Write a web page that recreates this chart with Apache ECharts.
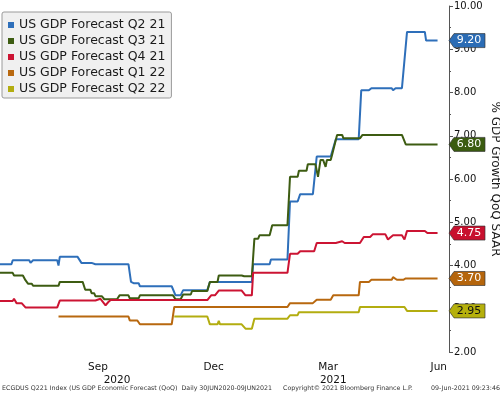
<!DOCTYPE html>
<html>
<head>
<meta charset="utf-8">
<script src="https://cdn.jsdelivr.net/npm/echarts@6/dist/echarts.min.js"></script>
<style>html,body{margin:0;padding:0;background:#fff;}#c{width:500px;height:395px;}</style>
</head>
<body>
<div id="c"></div>
<script>
// ---- data ----
const seriesNames = ['US GDP Forecast Q2 21','US GDP Forecast Q3 21','US GDP Forecast Q4 21','US GDP Forecast Q1 22','US GDP Forecast Q2 22'];
const xStart = '2020-06-30';
const xEnd = '2021-06-18';
const monthTickDates = ['2020-09-15','2020-12-15','2021-03-15','2021-06-10'];
const monthTickLabels = ['Sep','Dec','Mar','Jun'];
const yearTickDates = ['2020-09-30','2021-03-19'];
const yearTickLabels = ['2020','2021'];
const yTicks = [2,3,4,5,6,7,8,9,10];

const q221 = [
 ['2020-06-30',4.03],['2020-07-09',4.03],['2020-07-10',4.12],['2020-07-23',4.12],['2020-07-24',4.06],['2020-07-26',4.12],
 ['2020-08-14',4.12],['2020-08-15',4.00],['2020-08-16',4.20],['2020-08-30',4.20],['2020-09-02',4.06],['2020-09-10',4.06],
 ['2020-09-13',4.03],['2020-10-09',4.03],['2020-10-11',3.62],['2020-10-13',3.59],['2020-10-17',3.59],['2020-10-18',3.52],
 ['2020-11-12',3.52],['2020-11-15',3.31],['2020-11-19',3.31],['2020-11-21',3.43],['2020-12-10',3.43],['2020-12-12',3.62],
 ['2021-01-14',3.62],['2021-01-15',4.03],['2021-01-28',4.03],['2021-01-29',4.14],['2021-02-11',4.14],['2021-02-13',5.48],
 ['2021-02-19',5.48],['2021-02-21',5.65],['2021-03-03',5.65],['2021-03-06',6.52],['2021-03-17',6.52],['2021-03-21',6.92],
 ['2021-04-08',6.92],['2021-04-10',8.05],['2021-04-16',8.05],['2021-04-18',8.10],['2021-05-04',8.10],['2021-05-05',8.05],
 ['2021-05-07',8.10],['2021-05-12',8.10],['2021-05-16',9.40],['2021-05-30',9.40],['2021-05-31',9.20],['2021-06-09',9.20]
];
const q321 = [
 ['2020-06-30',3.83],['2020-07-10',3.83],['2020-07-11',3.77],['2020-07-18',3.77],['2020-07-20',3.66],['2020-07-22',3.58],
 ['2020-07-25',3.58],['2020-07-26',3.53],['2020-08-15',3.53],['2020-08-16',3.62],['2020-09-03',3.62],['2020-09-05',3.44],
 ['2020-09-09',3.44],['2020-09-10',3.36],['2020-09-12',3.36],['2020-09-13',3.29],['2020-09-18',3.29],['2020-09-20',3.22],
 ['2020-09-30',3.22],['2020-10-02',3.31],['2020-10-09',3.31],['2020-10-10',3.24],['2020-10-17',3.24],['2020-10-18',3.31],
 ['2020-11-13',3.31],['2020-11-15',3.22],['2020-11-19',3.22],['2020-11-21',3.33],['2020-11-27',3.33],['2020-11-28',3.41],
 ['2020-12-10',3.41],['2020-12-12',3.62],['2020-12-18',3.62],['2020-12-19',3.77],['2021-01-06',3.77],['2021-01-07',3.81],
 ['2021-01-08',3.75],['2021-01-14',3.75],['2021-01-16',4.62],['2021-01-19',4.62],['2021-01-20',4.70],['2021-01-28',4.70],
 ['2021-01-30',4.93],['2021-02-11',4.93],['2021-02-13',6.05],['2021-02-19',6.05],['2021-02-20',6.19],['2021-02-26',6.19],
 ['2021-02-27',6.34],['2021-03-05',6.34],['2021-03-07',6.05],['2021-03-09',6.44],['2021-03-11',6.44],['2021-03-13',6.28],
 ['2021-03-14',6.44],['2021-03-17',6.44],['2021-03-18',6.55],['2021-03-22',7.02],['2021-03-26',7.02],['2021-03-27',6.94],
 ['2021-04-09',6.94],['2021-04-11',7.02],['2021-05-12',7.02],['2021-05-15',6.80],['2021-06-09',6.80]
];
const q421 = [
 ['2020-06-30',3.18],['2020-07-10',3.18],['2020-07-11',3.23],['2020-07-13',3.13],['2020-07-17',3.13],['2020-07-20',3.03],
 ['2020-08-14',3.03],['2020-08-16',3.19],['2020-09-13',3.19],['2020-09-17',3.23],['2020-09-21',3.08],['2020-09-23',3.15],
 ['2020-09-25',3.20],['2020-12-10',3.20],['2020-12-13',3.31],['2020-12-16',3.31],['2020-12-19',3.42],['2021-01-06',3.42],
 ['2021-01-09',3.31],['2021-01-14',3.31],['2021-01-15',3.83],['2021-02-11',3.83],['2021-02-13',4.27],['2021-02-19',4.27],
 ['2021-02-21',4.33],['2021-03-04',4.33],['2021-03-06',4.52],['2021-03-21',4.52],['2021-03-22',4.56],['2021-03-26',4.56],
 ['2021-03-28',4.52],['2021-04-09',4.52],['2021-04-12',4.66],['2021-04-17',4.66],['2021-04-19',4.72],['2021-04-29',4.72],
 ['2021-05-01',4.60],['2021-05-05',4.70],['2021-05-12',4.70],['2021-05-14',4.60],['2021-05-16',4.80],['2021-05-30',4.80],
 ['2021-06-01',4.75],['2021-06-09',4.75]
];
const q122 = [
 ['2020-08-15',2.82],['2020-10-09',2.82],['2020-10-10',2.73],['2020-10-16',2.73],['2020-10-18',2.64],['2020-11-12',2.64],
 ['2020-11-14',3.04],['2021-02-11',3.04],['2021-02-13',3.13],['2021-03-03',3.13],['2021-03-06',3.21],['2021-03-17',3.21],
 ['2021-03-19',3.31],['2021-04-08',3.31],['2021-04-09',3.62],['2021-04-16',3.62],['2021-04-18',3.67],['2021-05-04',3.67],
 ['2021-05-05',3.73],['2021-05-08',3.67],['2021-05-13',3.67],['2021-05-15',3.70],['2021-06-09',3.70]
];
const q222 = [
 ['2020-11-14',2.82],['2020-12-10',2.82],['2020-12-12',2.64],['2020-12-18',2.64],['2020-12-19',2.72],['2020-12-20',2.64],
 ['2021-01-06',2.64],['2021-01-09',2.54],['2021-01-14',2.54],['2021-01-16',2.77],['2021-02-11',2.77],['2021-02-13',2.85],
 ['2021-02-19',2.85],['2021-02-20',2.92],['2021-04-08',2.92],['2021-04-09',3.04],['2021-05-14',3.04],['2021-05-16',2.95],
 ['2021-06-09',2.95]
];

const allData = [q221, q321, q421, q122, q222];
const lineColors = ['#2e6fba','#3d5c12','#cc1433','#b8680f','#b3ad10'];
const tagColors = ['#2b6cb5','#3b5c10','#c8102e','#b5650c','#b5b00c'];
const tagText = ['#ffffff','#ffffff','#ffffff','#ffffff','#111111'];

function t(s){ const p = s.split('-').map(Number); return Date.UTC(p[0], p[1]-1, p[2]); }

const FONT = 'DejaVu Sans';
const tagPath = 'path://M0,7 L5,0 L36,0 L36,14 L5,14 Z';
const monthVals = monthTickDates.map(t);
const yearVals = yearTickDates.map(t);

const series = allData.map((d, i) => ({
  name: seriesNames[i],
  type: 'line',
  xAxisIndex: 0,
  data: d.map(p => [t(p[0]), p[1]]),
  showSymbol: false,
  symbol: 'none',
  lineStyle: { width: 2, color: lineColors[i] },
  itemStyle: { color: lineColors[i] },
  z: 2 + i,
  markPoint: {
    symbol: tagPath,
    symbolSize: [36, 14],
    symbolOffset: [18, 0],
    silent: true,
    itemStyle: { color: tagColors[i], borderColor: '#333', borderWidth: 0.6 },
    label: {
      show: true, position: 'inside', offset: [2, 0],
      color: tagText[i], fontFamily: FONT, fontSize: 11,
      formatter: (p) => Number(p.value).toFixed(2)
    },
    data: [{ coord: [t(xEnd), d[d.length-1][1]], value: d[d.length-1][1] }]
  }
}));

const chart = echarts.init(document.getElementById('c'), null, { renderer: 'canvas' });
chart.setOption({
  animation: false,
  backgroundColor: '#ffffff',
  grid: { left: 0, right: 51, top: 6, bottom: 43, containLabel: false, outerBoundsMode: 'none' },
  legend: {
    data: seriesNames,
    orient: 'vertical',
    left: 2, top: 12,
    icon: 'rect', itemWidth: 6, itemHeight: 6, itemGap: 2,
    padding: [6, 6, 2, 6],
    backgroundColor: '#f0f0f0', borderColor: '#9a9a9a', borderWidth: 1, borderRadius: 2,
    textStyle: { fontFamily: FONT, fontSize: 12.5, color: '#1a1a1a', lineHeight: 14 },
    selectedMode: false
  },
  xAxis: [
    {
      type: 'value', min: t(xStart), max: t(xEnd),
      axisLine: { show: false }, axisTick: { show: false }, splitLine: { show: false },
      axisLabel: {
        customValues: monthVals,
        formatter: (v) => { const i = monthVals.indexOf(v); return i >= 0 ? monthTickLabels[i] : ''; },
        margin: 10, fontFamily: FONT, fontSize: 10.5, color: '#111', hideOverlap: false
      }
    },
    {
      type: 'value', min: t(xStart), max: t(xEnd), position: 'bottom',
      axisLine: { show: false }, axisTick: { show: false }, splitLine: { show: false },
      axisLabel: {
        customValues: yearVals,
        formatter: (v) => { const i = yearVals.indexOf(v); return i >= 0 ? yearTickLabels[i] : ''; },
        margin: 23, fontFamily: FONT, fontSize: 10.5, color: '#111', hideOverlap: false
      }
    }
  ],
  yAxis: {
    type: 'value', position: 'right', min: yTicks[0], max: yTicks[yTicks.length-1], interval: 1,
    name: '% GDP Growth QoQ SAAR', nameLocation: 'middle', nameRotate: -90, nameGap: 40,
    nameMoveOverlap: false,
    nameTextStyle: { fontFamily: FONT, fontSize: 12, color: '#1a1a1a' },
    axisLine: { show: true, lineStyle: { color: '#555', width: 1 } },
    axisTick: { show: true, inside: false, length: 4, lineStyle: { color: '#555' } },
    minorTick: { show: true, splitNumber: 2, length: 2, lineStyle: { color: '#555' } },
    splitLine: { show: false },
    axisLabel: { margin: 5, fontFamily: FONT, fontSize: 10, color: '#111', formatter: (v) => v.toFixed(2) }
  },
  series: series,
  graphic: [
    { type: 'text', left: 2, top: 385, style: { text: 'ECGDUS Q221 Index (US GDP Economic Forecast (QoQ)  Daily 30JUN2020-09JUN2021', font: '6.3px "DejaVu Sans"', fill: '#333' } },
    { type: 'text', left: 283, top: 385, style: { text: 'Copyright\u00a9 2021 Bloomberg Finance L.P.', font: '6.3px "DejaVu Sans"', fill: '#333' } },
    { type: 'text', right: 0, top: 385, style: { text: '09-Jun-2021 09:23:46', font: '6.3px "DejaVu Sans"', fill: '#333' } }
  ]
});
</script>
</body>
</html>
